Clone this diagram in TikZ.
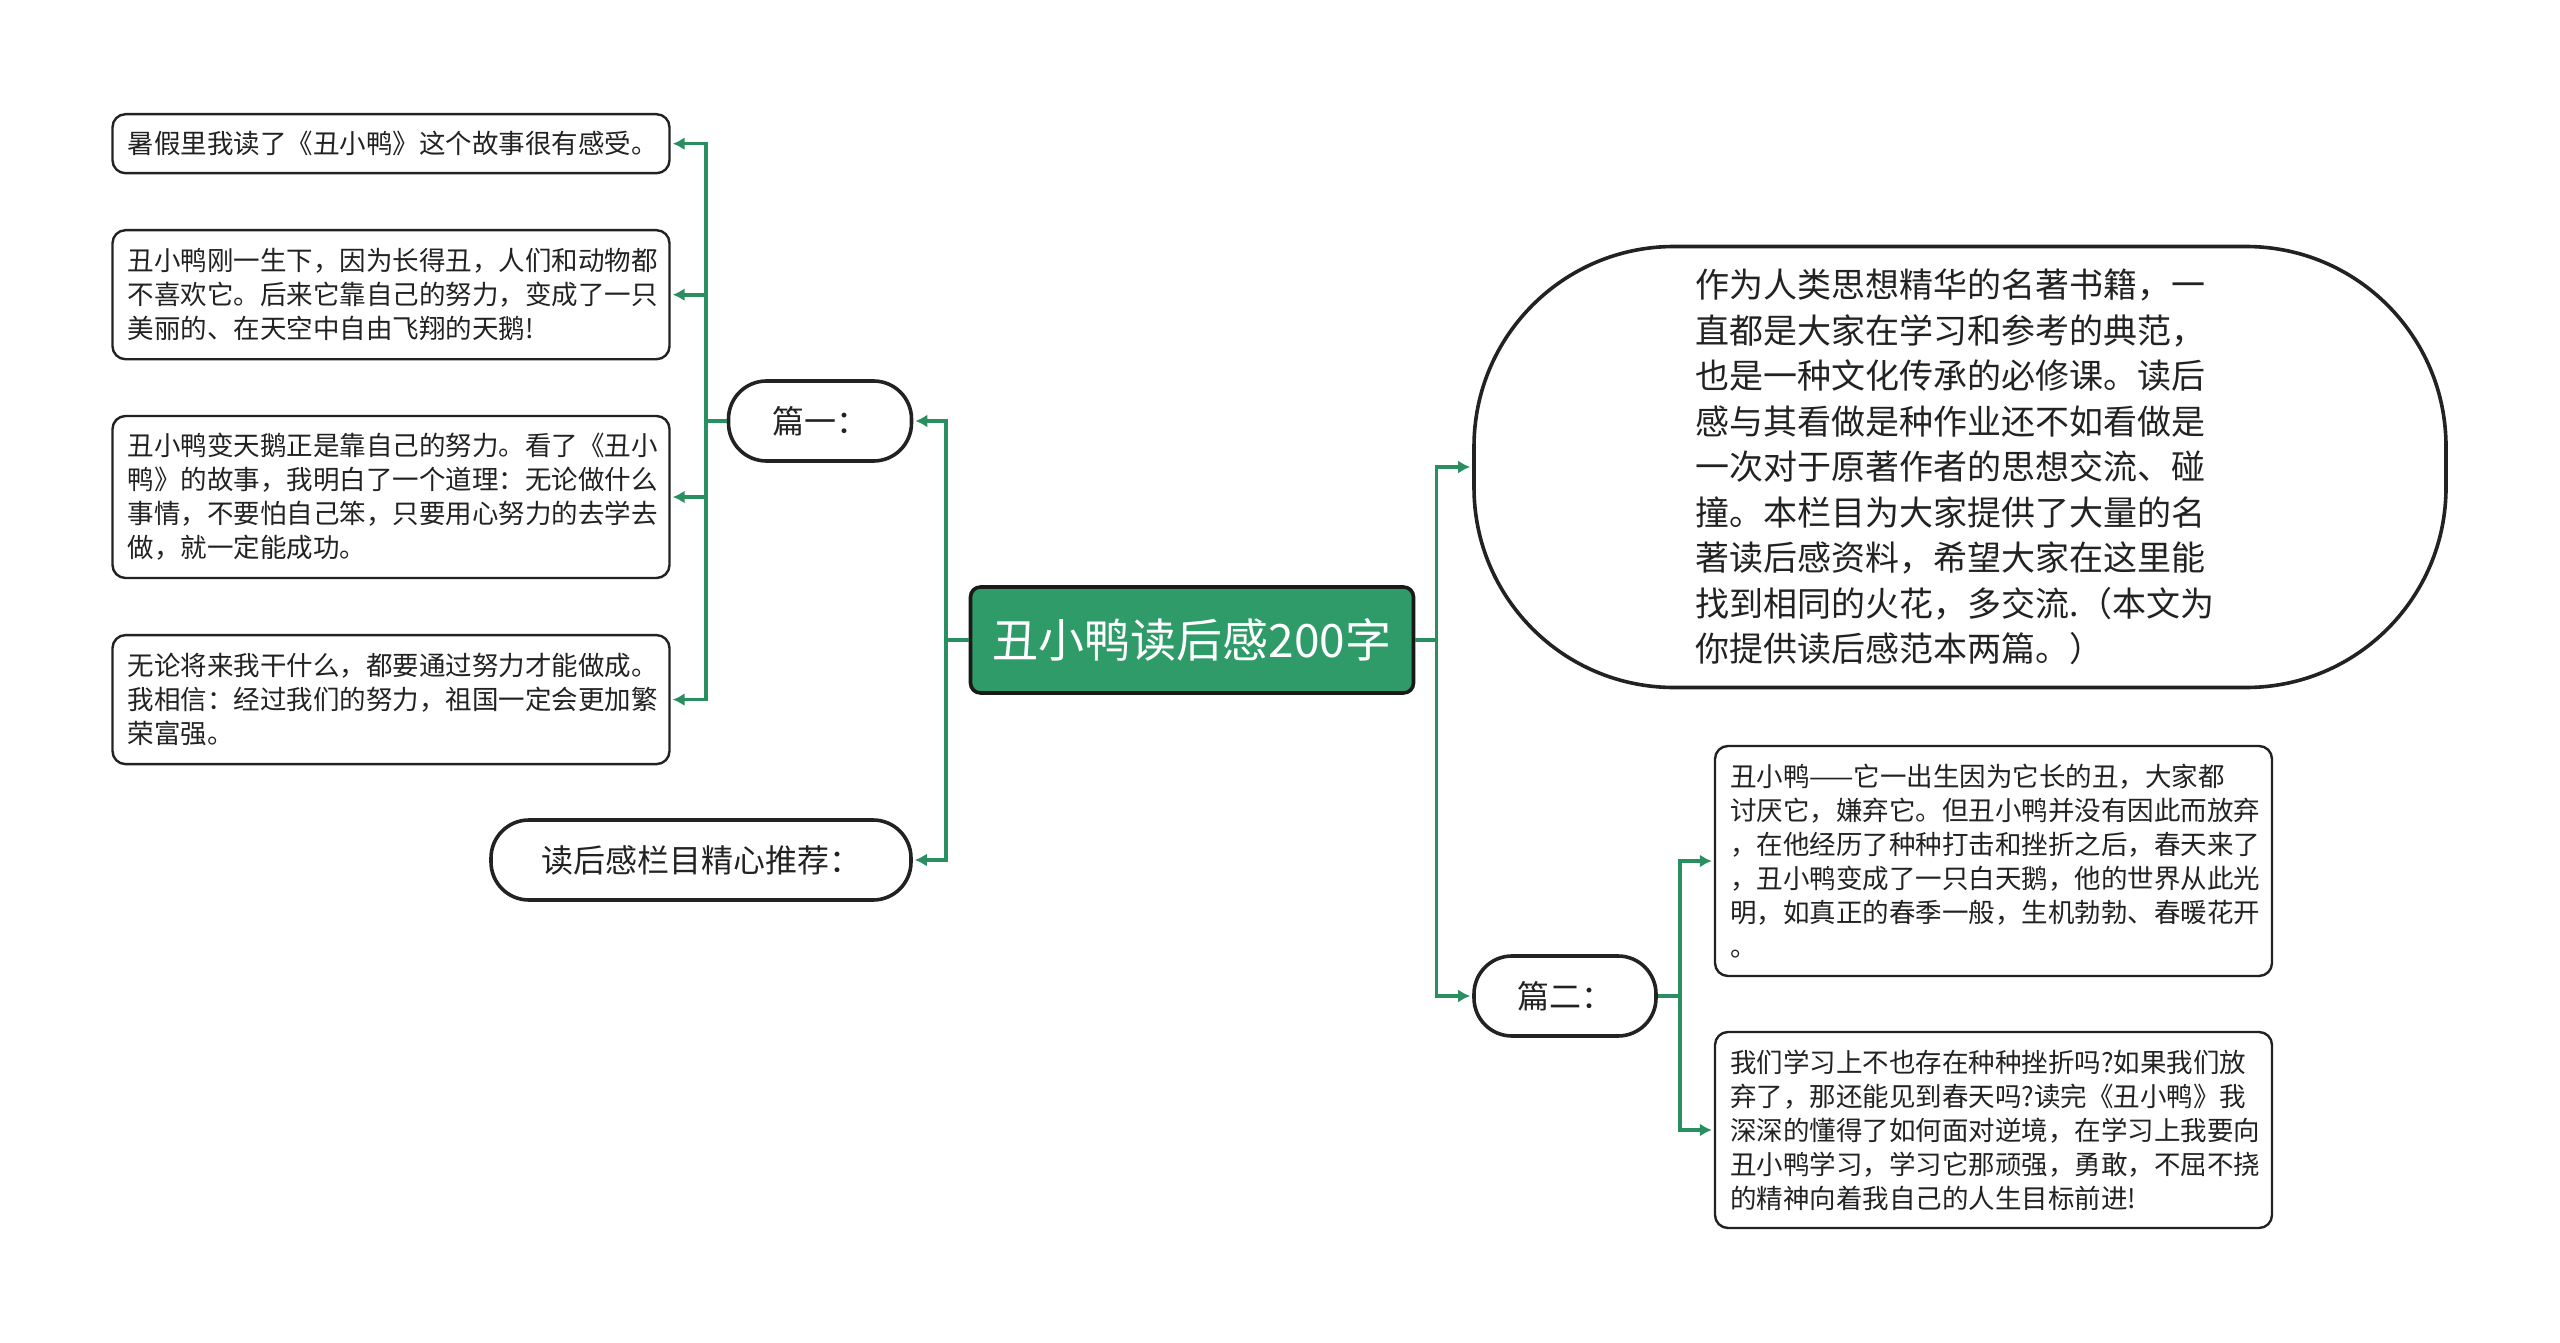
\documentclass[tikz,border=0pt]{standalone}
\usepackage{fontspec}
\usepackage{tikz}
\usetikzlibrary{arrows.meta, positioning}
\setmainfont{Noto Sans CJK SC}
\definecolor{duckgreen}{HTML}{2E9B68}
\definecolor{linkgreen}{HTML}{2A8F60}
\definecolor{inkgray}{HTML}{222222}
\newcommand{\fsz}[2]{\fontsize{#1}{#2}\selectfont}

\begin{document}
\begin{tikzpicture}[x=1pt, y=-1pt, >={Latex[length=12pt,width=13pt]},
    textbox/.style={draw=inkgray, line width=2.4pt, rounded corners=13pt, align=left, text width=527pt,
        inner xsep=15pt, inner ysep=0pt, minimum width=557pt, font=\fsz{26.5}{34}, text=inkgray},
    pill/.style={draw=inkgray, line width=3.6pt, rounded corners=38pt, minimum height=80pt,
        font=\fsz{32}{40}, text=inkgray},
    link/.style={draw=linkgreen, line width=3.6pt, ->, shorten >=2pt}]
    \useasboundingbox[fill=white] (0,0) rectangle (2560,1343);

    \node[draw=black!90, line width=3.6pt, fill=duckgreen, rounded corners=10pt, minimum width=443pt,
        minimum height=106pt, text=white, font=\fsz{46}{52}] (root) at (1192,640) {丑小鸭读后感200字};

    \node[pill, minimum width=183pt] (p1) at (820,421) {篇一：};
    \node[pill, minimum width=420pt] (tips) at (701,860) {读后感栏目精心推荐：};
    \node[pill, minimum width=182pt] (p2) at (1565,996) {篇二：};

    \node[textbox, minimum height=59pt] (a1) at (391,143.7) {暑假里我读了《丑小鸭》这个故事很有感受。};
    \node[textbox, minimum height=129pt] (a2) at (391,294.7) {丑小鸭刚一生下，因为长得丑，人们和动物都\\不喜欢它。后来它靠自己的努力，变成了一只\\美丽的、在天空中自由飞翔的天鹅!};
    \node[textbox, minimum height=162pt] (a3) at (391,497) {丑小鸭变天鹅正是靠自己的努力。看了《丑小\\鸭》的故事，我明白了一个道理：无论做什么\\事情，不要怕自己笨，只要用心努力的去学去\\做，就一定能成功。};
    \node[textbox, minimum height=129pt] (a4) at (391,699.6) {无论将来我干什么，都要通过努力才能做成。\\我相信：经过我们的努力，祖国一定会更加繁\\荣富强。};

    \node[draw=inkgray, line width=3.6pt, rounded corners=200pt, minimum width=972pt, minimum height=441pt,
        align=left, text width=530pt, font=\fsz{34}{45.5}, text=inkgray] (intro) at (1960,467)
        {作为人类思想精华的名著书籍，一\\直都是大家在学习和参考的典范，\\也是一种文化传承的必修课。读后\\感与其看做是种作业还不如看做是\\一次对于原著作者的思想交流、碰\\撞。本栏目为大家提供了大量的名\\著读后感资料，希望大家在这里能\\找到相同的火花，多交流.（本文为\\你提供读后感范本两篇。）};

    \node[textbox, minimum height=230pt] (b1) at (1993.5,861) {丑小鸭——它一出生因为它长的丑，大家都\\讨厌它，嫌弃它。但丑小鸭并没有因此而放弃\\，在他经历了种种打击和挫折之后，春天来了\\，丑小鸭变成了一只白天鹅，他的世界从此光\\明，如真正的春季一般，生机勃勃、春暖花开\\。};
    \node[textbox, minimum height=196pt] (b2) at (1993.5,1130) {我们学习上不也存在种种挫折吗?如果我们放\\弃了，那还能见到春天吗?读完《丑小鸭》我\\深深的懂得了如何面对逆境，在学习上我要向\\丑小鸭学习，学习它那顽强，勇敢，不屈不挠\\的精神向着我自己的人生目标前进!};

    \foreach \k in {p1,tips} \draw[link] (root.west) -- ++(-22.5,0) |- (\k.east);
    \foreach \k in {a1,a2,a3,a4} \draw[link] (p1.west) -- ++(-21,0) |- (\k.east);
    \foreach \k in {intro,p2} \draw[link] (root.east) -- ++(21,0) |- (\k.west);
    \foreach \k in {b1,b2} \draw[link] (p2.east) -- ++(22,0) |- (\k.west);
\end{tikzpicture}
\end{document}
